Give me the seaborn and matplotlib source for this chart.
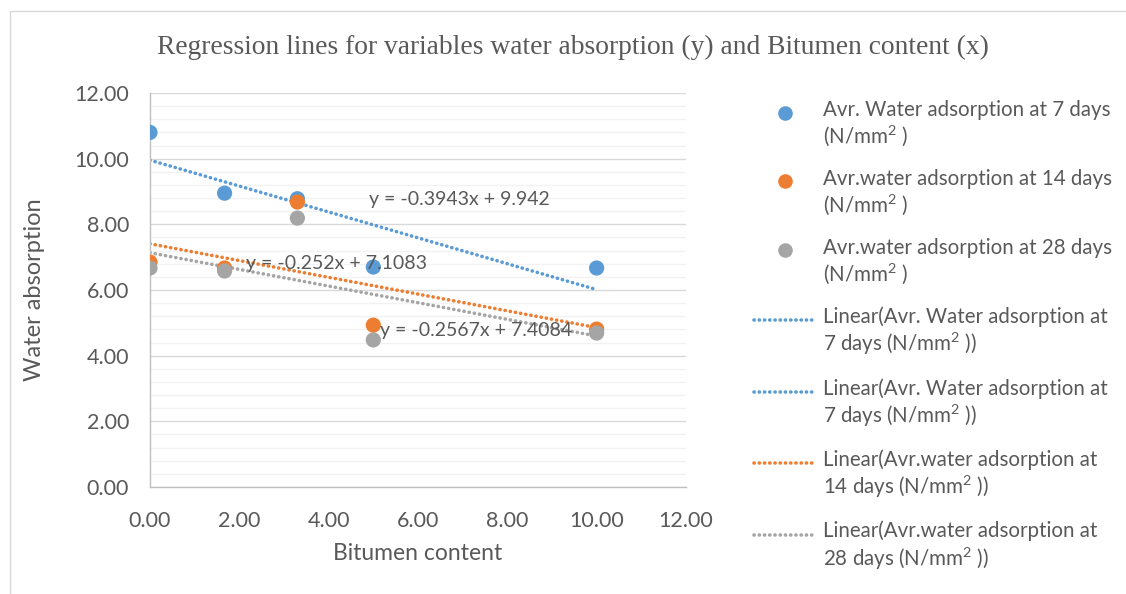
import matplotlib
matplotlib.use("Agg")
import matplotlib.pyplot as plt
from matplotlib.lines import Line2D
from matplotlib.legend_handler import HandlerLine2D
from matplotlib.patches import Rectangle
from matplotlib.ticker import MultipleLocator
import pandas as pd
import seaborn as sns

# Data
bitumen = [0.0, 1.67, 3.3, 5.0, 10.0]
days_7 = [10.80, 8.95, 8.78, 6.70, 6.67]
days_14 = [6.85, 6.67, 8.68, 4.93, 4.81]
days_28 = [6.67, 6.58, 8.19, 4.48, 4.69]

series_names = ["Avr. Water adsorption at 7 days\n(N/mm$^{2}$ )",
                "Avr.water adsorption at 14 days\n(N/mm$^{2}$ )",
                "Avr.water adsorption at 28 days\n(N/mm$^{2}$ )"]
trend_names = ["Linear(Avr. Water adsorption at\n7 days (N/mm$^{2}$ ))",
               "Linear(Avr. Water adsorption at\n7 days (N/mm$^{2}$ ))",
               "Linear(Avr.water adsorption at\n14 days (N/mm$^{2}$ ))",
               "Linear(Avr.water adsorption at\n28 days (N/mm$^{2}$ ))"]
equations = ["y = -0.3943x + 9.942", "y = -0.2567x + 7.4084", "y = -0.252x + 7.1083"]
eq_pos = [(4.9, 8.77), (5.15, 4.78), (2.15, 6.82)]

colours = ["#5b9bd5", "#ed7d31", "#a5a5a5"]
text_grey = "#595959"

sns.set_style("white")
plt.rcParams["font.family"] = ["Lato", "DejaVu Sans"]
plt.rcParams["mathtext.fontset"] = "custom"
plt.rcParams["mathtext.rm"] = "Lato"
plt.rcParams["mathtext.it"] = "Lato"


# legend keys sit level with the first line of a two-line label
class FirstLineHandler(HandlerLine2D):
    def create_artists(self, legend, orig_handle, xdescent, ydescent,
                       width, height, fontsize, trans):
        return super().create_artists(legend, orig_handle, xdescent,
                                      ydescent - 1.2 * fontsize, width, height,
                                      fontsize, trans)


df = pd.DataFrame({"x": bitumen * 3,
                   "y": days_7 + days_14 + days_28,
                   "series": sum([[n] * len(bitumen) for n in series_names], [])})

fig = plt.figure(figsize=(11.26, 5.94), dpi=100)
ax = fig.add_axes([0.1332, 0.1801, 0.4760, 0.6633])

# chart frame
fig.patches.append(Rectangle((10 / 1126, -0.1), 1.2, 1 - 11 / 594 + 0.1,
                             transform=fig.transFigure, fill=False,
                             edgecolor="#d9d9d9", linewidth=1))

dotted = dict(linestyle=(0, (0.05, 1.4)), linewidth=2.6,
              dash_capstyle="round", solid_capstyle="round")
for vals, c in zip([days_7, days_14, days_28], colours):
    sns.regplot(x=bitumen, y=vals, ax=ax, scatter=False, ci=None,
                color=c, line_kws=dotted)

sns.scatterplot(data=df, x="x", y="y", hue="series", palette=colours,
                s=120, edgecolor="none", ax=ax, legend=False, zorder=3)

for eq, (ex, ey) in zip(equations, eq_pos):
    ax.text(ex, ey, eq, fontsize=14, color=text_grey, va="center", ha="left",
            zorder=4)

ax.set_xlim(0, 12)
ax.set_ylim(0, 12)
ax.xaxis.set_major_locator(MultipleLocator(2))
ax.yaxis.set_major_locator(MultipleLocator(2))
ax.yaxis.set_minor_locator(MultipleLocator(0.4))
ax.grid(which="major", axis="y", color="#d9d9d9", linewidth=1)
ax.grid(which="minor", axis="y", color="#f2f2f2", linewidth=1)
ax.set_axisbelow(True)
ax.xaxis.set_major_formatter(lambda v, p: f"{v:.2f}")
ax.yaxis.set_major_formatter(lambda v, p: f"{v:.2f}")

for s in ["top", "right"]:
    ax.spines[s].set_visible(False)
for s in ["left", "bottom"]:
    ax.spines[s].set_color("#bfbfbf")
    ax.spines[s].set_linewidth(1)
ax.tick_params(axis="both", which="major", length=5, color="#bfbfbf",
               labelsize=15.5, labelcolor=text_grey, direction="out")
ax.tick_params(axis="x", which="major", pad=12)
ax.tick_params(axis="y", which="major", pad=10)
ax.tick_params(axis="y", which="minor", length=0)

ax.set_xlabel("Bitumen content", fontsize=16.5, color=text_grey, labelpad=9)
ax.set_ylabel("Water absorption", fontsize=17, color=text_grey, labelpad=21)

fig.text(0.509, 0.921, "Regression lines for variables water absorption (y) and Bitumen content (x)",
         ha="center", va="center", fontsize=19.8, color=text_grey,
         family=["Liberation Serif", "DejaVu Serif"])

handles = [Line2D([], [], marker="o", linestyle="none", markersize=10.5,
                  color=c, markeredgecolor="none") for c in colours]
trend_cols = [colours[0], colours[0], colours[1], colours[2]]
handles += [Line2D([], [], color=c, **dotted) for c in trend_cols]
leg = fig.legend(handles, series_names + trend_names, loc="upper left",
                 bbox_to_anchor=(0.653, 0.863), frameon=False, fontsize=14.8,
                 labelcolor=text_grey, handlelength=3.0, handletextpad=0.35,
                 labelspacing=1.0, handler_map={Line2D: FirstLineHandler()})

fig.savefig("out.png", dpi=100)
